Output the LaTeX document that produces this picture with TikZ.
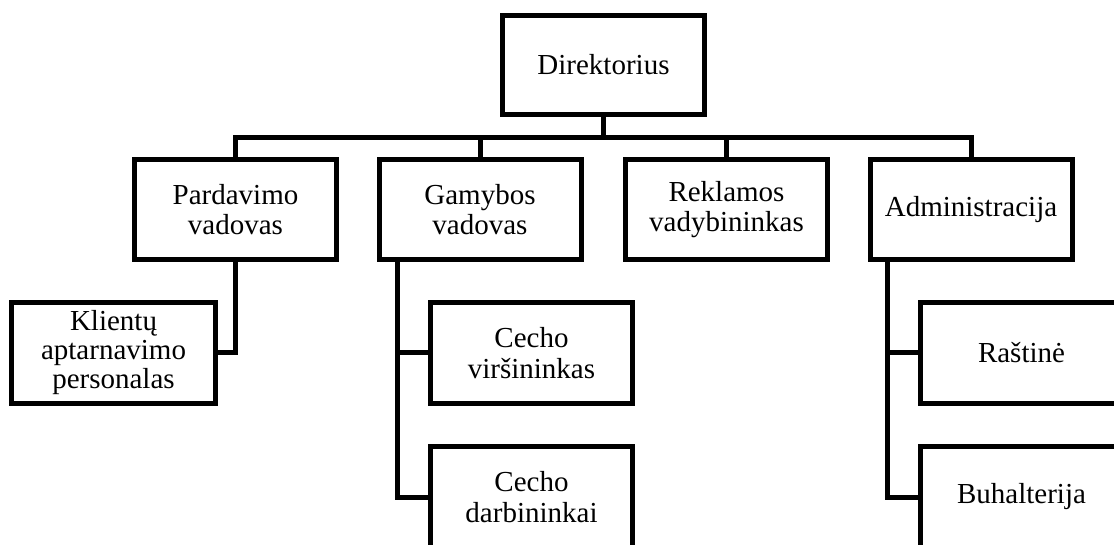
\documentclass[tikz,border=0pt]{standalone}
\usepackage{fontspec}
\setmainfont{Liberation Serif}
\begin{document}
\begin{tikzpicture}[x=1pt,y=-1pt,
  box/.style={draw,line width=5pt,rectangle,inner sep=0pt,align=center,
    minimum width=202pt,minimum height=100pt,
    font=\fontsize{29}{30.5}\selectfont},
  conn/.style={line width=5pt,miter limit=10}]
\useasboundingbox (0,0) rectangle (1114,545);
\node[box,minimum height=99pt] (dir) at (603.5,65) {Direktorius};
\node[box] (pard) at (235.5,209.5) {Pardavimo\\vadovas};
\node[box] (gam) at (480,209.5) {Gamybos\\vadovas};
\node[box] (rek) at (726.5,209.5) {Reklamos\\vadybininkas};
\node[box] (adm) at (971,209.5) {Administracija};
\node[box,minimum width=204pt,minimum height=101pt,font=\fontsize{29}{29}\selectfont] (kli) at (113.5,353) {Klientų\\aptarnavimo\\personalas};
\node[box,minimum height=101pt] (cv) at (531.5,353) {Cecho\\viršininkas};
\node[box,minimum height=101pt] (cd) at (531.5,497) {Cecho\\darbininkai};
\node[box,minimum height=101pt] (ras) at (1021.5,353) {Raštinė};
\node[box,minimum height=101pt] (buh) at (1021.5,497) {Buhalterija};
\coordinate (bus) at (0,137.5);
\draw[conn] (pard.north) |- (adm.north |- bus) -- (adm.north);
\draw[conn] (dir.south) -- (dir.south |- bus);
\draw[conn] (gam.north |- bus) -- (gam.north);
\draw[conn] (rek.north |- bus) -- (rek.north);
\draw[conn] (pard.south) |- (kli.east);
\coordinate (gs) at ([xshift=21pt]gam.south west);
\draw[conn] (gs) |- (cv.west);
\draw[conn] (gs) |- (cd.west);
\coordinate (as) at ([xshift=20pt]adm.south west);
\draw[conn] (as) |- (ras.west);
\draw[conn] (as) |- (buh.west);
\end{tikzpicture}
\end{document}
